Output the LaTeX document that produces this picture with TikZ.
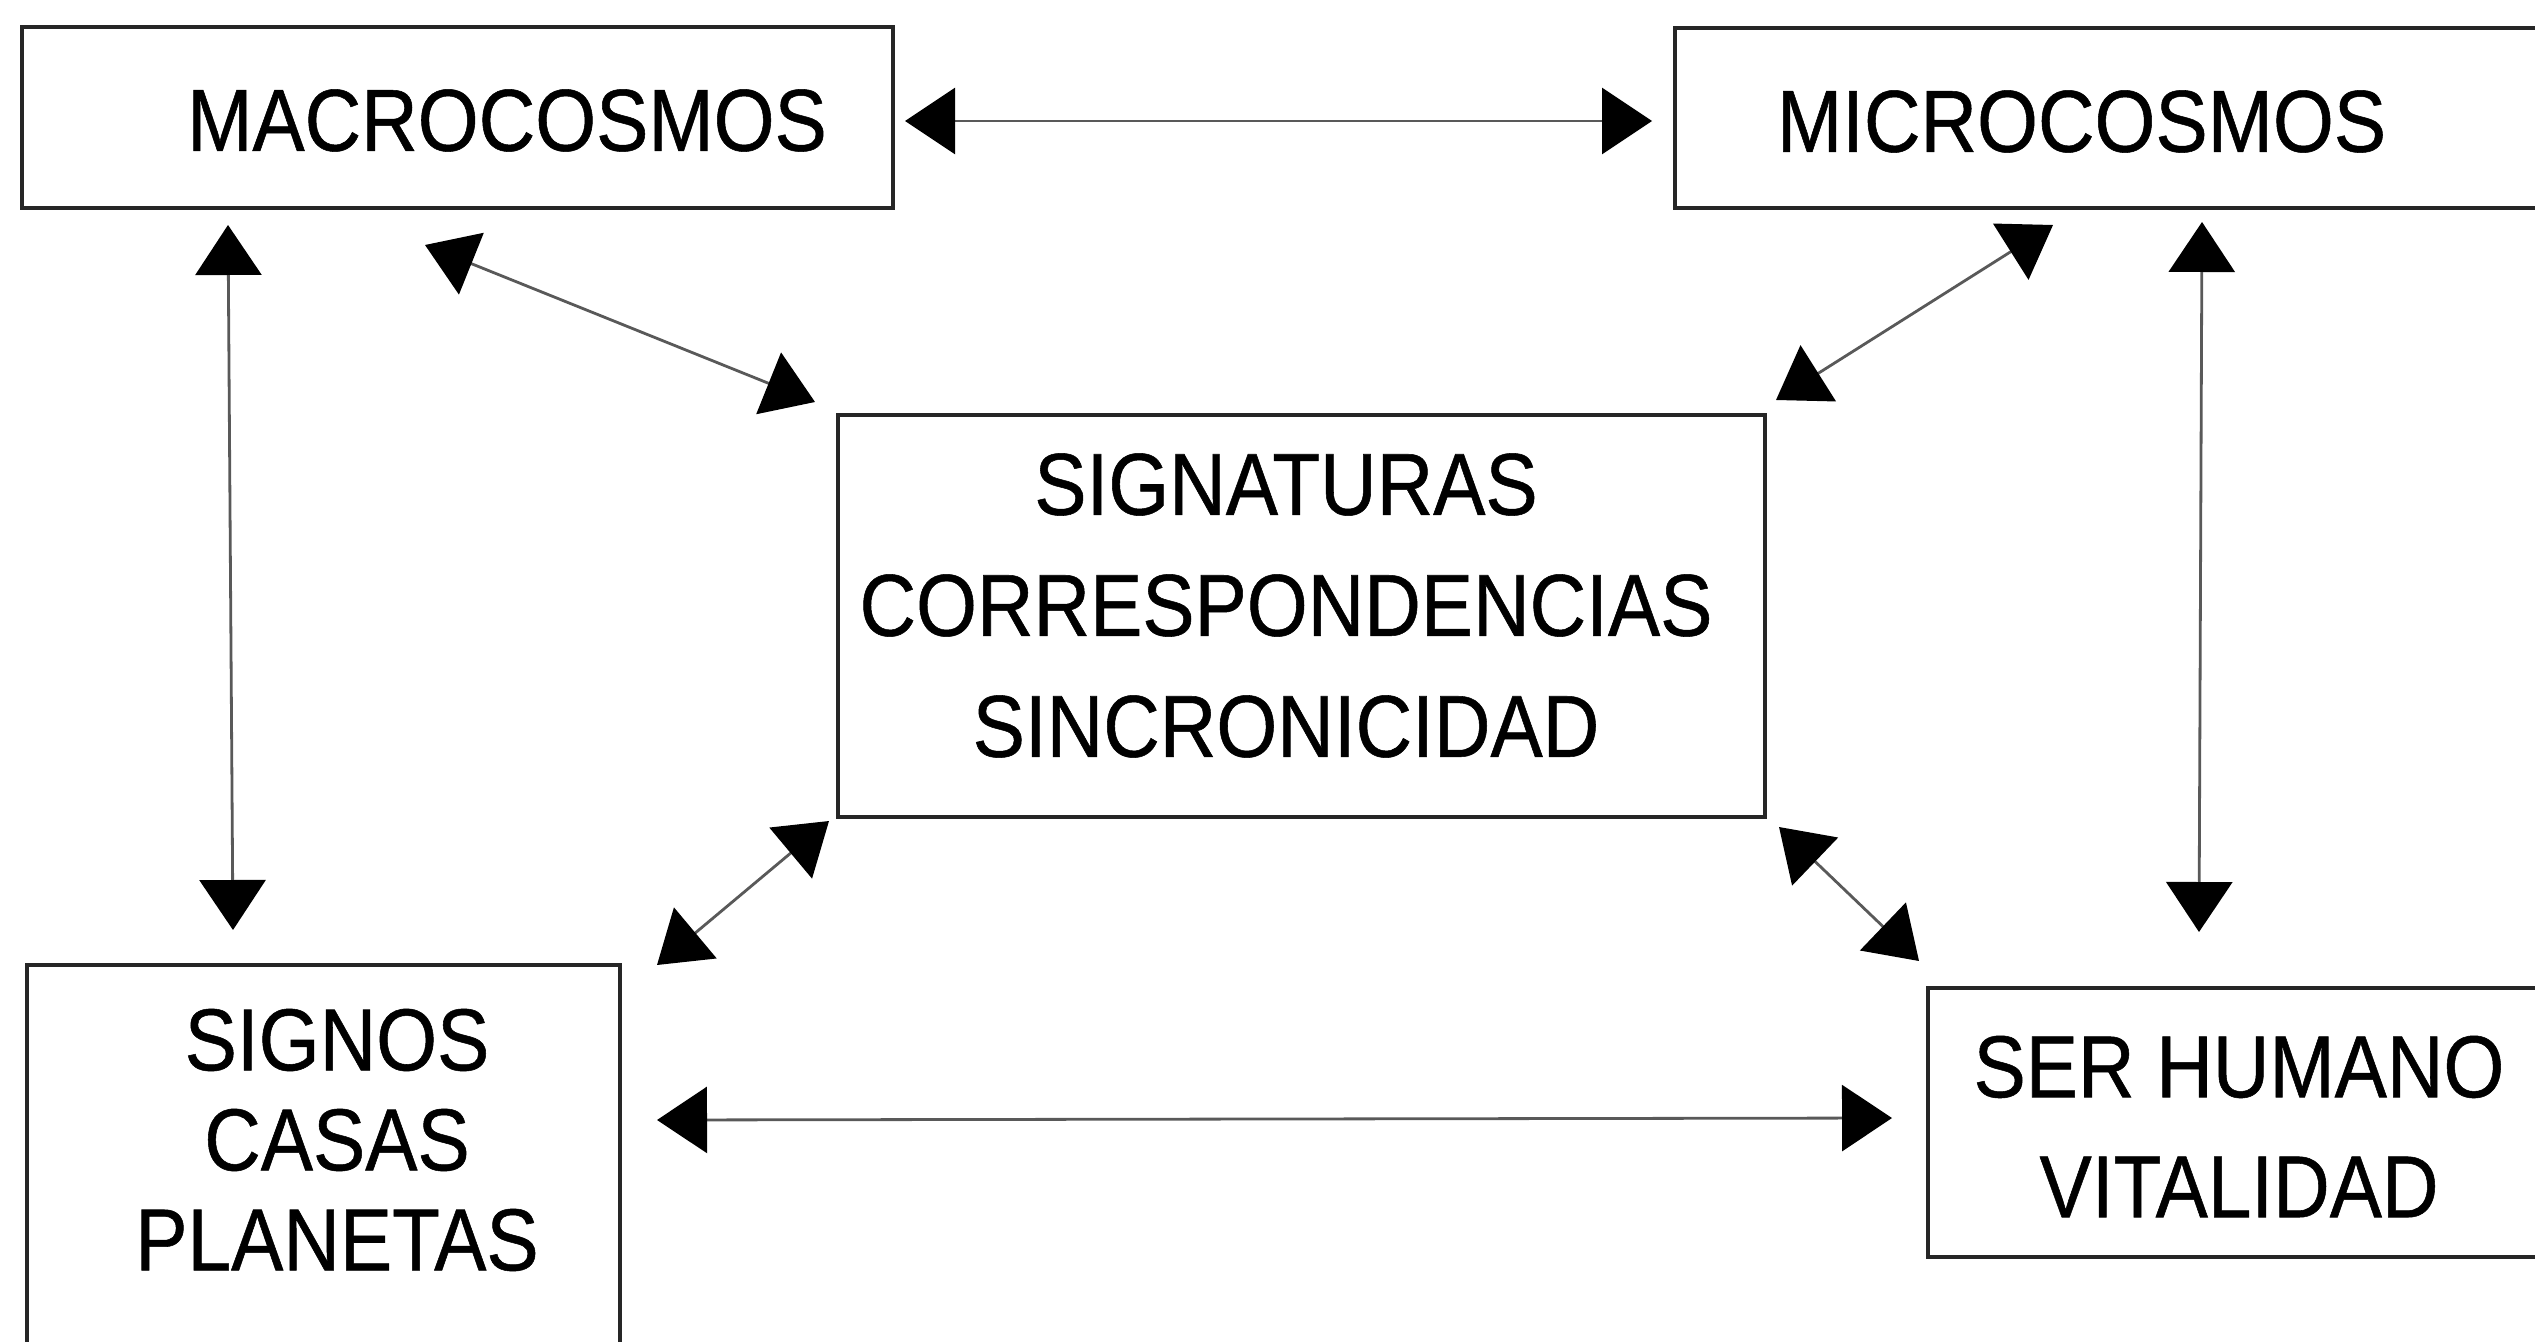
\documentclass[tikz,border=0pt]{standalone}
\usepackage{fontspec}
\setmainfont[FakeStretch=0.89,FakeBold=0.6]{Liberation Sans}
\usetikzlibrary{arrows.meta}
\tikzset{
  boxshape/.style={draw=black!85, line width=1.9pt, rectangle, inner sep=0pt},
  lbl/.style={inner sep=0pt, align=center, text=black},
  conn/.style={draw=black!65, line width=1.4pt, {Triangle[length=25pt,width=33pt,black]}-{Triangle[length=25pt,width=33pt,black]}}
}
\begin{document}
\begin{tikzpicture}[x=0.5pt,y=-0.5pt]
\useasboundingbox (0,0) rectangle (2535,1342);
% boxes
\node[boxshape, minimum width=435.5pt, minimum height=90.5pt] (macro) at (457.5,117.5) {};
\node[boxshape, minimum width=435pt, minimum height=90pt] (micro) at (2110,118) {};
\node[boxshape, minimum width=463.5pt, minimum height=201pt] (sig) at (1301.5,616) {};
\node[boxshape, minimum width=296.5pt, minimum height=197.5pt] (signos) at (323.5,1162.5) {};
\node[boxshape, minimum width=308.5pt, minimum height=134.5pt] (ser) at (2236.5,1122.5) {};
% labels
\node[lbl, font=\fontsize{44}{53}\selectfont] (tmacro) at (507,120.5) {MACROCOSMOS};
\node[lbl, font=\fontsize{44}{53}\selectfont] (tmicro) at (2081.5,121.5) {MICROCOSMOS};
\node[lbl, font=\fontsize{44}{60.5}\selectfont] (tsig) at (1286,605.5) {SIGNATURAS\\CORRESPONDENCIAS\\SINCRONICIDAD};
\node[lbl, font=\fontsize{44}{50}\selectfont] (tsignos) at (337,1140) {SIGNOS\\CASAS\\PLANETAS};
\node[lbl, font=\fontsize{44}{60}\selectfont] (tser) at (2239,1126.5) {SER HUMANO\\VITALIDAD};
% connector end points
\coordinate (a1) at (905,121);   \coordinate (a2) at (1652,121);
\coordinate (b1) at (228,225);   \coordinate (b2) at (233,930);
\coordinate (c1) at (2202,222);  \coordinate (c2) at (2199,932);
\coordinate (d1) at (425,245);   \coordinate (d2) at (815,402);
\coordinate (e1) at (2053,225);  \coordinate (e2) at (1776,400);
\coordinate (f1) at (657,965);   \coordinate (f2) at (829,821);
\coordinate (g1) at (1779,827);  \coordinate (g2) at (1919,961);
\coordinate (h1) at (657,1120);  \coordinate (h2) at (1892,1118);
% connectors
\draw[conn] (a1) -- (a2);
\draw[conn] (b1) -- (b2);
\draw[conn] (c1) -- (c2);
\draw[conn] (d1) -- (d2);
\draw[conn] (e1) -- (e2);
\draw[conn] (f1) -- (f2);
\draw[conn] (g1) -- (g2);
\draw[conn] (h1) -- (h2);
\end{tikzpicture}
\end{document}
